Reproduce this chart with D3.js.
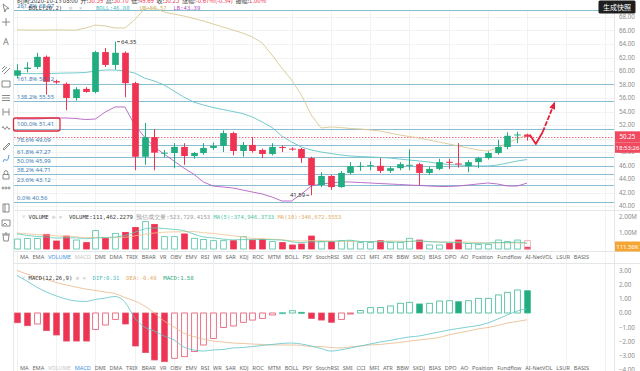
<!DOCTYPE html>
<html>
<head>
<meta charset="utf-8">
<script src="https://cdn.jsdelivr.net/npm/d3@7"></script>
<style>
  html, body { margin: 0; padding: 0; background: #fff; overflow: hidden; }
  svg { display: block; font-family: "Noto Sans", "Noto Sans CJK SC", sans-serif; }
</style>
</head>
<body>
<svg id="chart" width="640" height="371"></svg>
<script>
// ---- data (4h candles, index 0 = left edge) ----
const opens  = [59.3,60.3,60.6,62.1,58.5,58.1,56.0,57.35,56.9,62.8,60.9,62.7,58.2,47.3,50.2,47.8,47.85,48.75,47.4,47.85,48.6,48.9,50.8,48.15,49.05,48.3,47.7,48.75,48.5,48.45,47.1,43.1,44.45,42.8,44.9,45.85,45.9,45.95,45.2,45.6,46.0,46.2,44.9,45.5,46.55,46.3,45.9,46.5,47.1,47.85,48.75,50.5,50.59];
const highs  = [61.0,61.3,62.7,62.3,58.7,58.3,57.6,57.6,63.0,63.4,64.35,62.9,58.4,52.3,51.4,48.3,49.3,49.3,48.0,49.3,49.4,51.2,51.0,49.5,50.2,48.5,49.3,49.0,48.7,48.6,47.3,45.0,44.6,45.2,46.5,46.5,46.6,47.1,45.9,46.5,48.4,46.4,45.8,47.0,47.0,49.3,46.8,47.3,48.1,49.8,50.9,51.0,50.70];
const lows   = [58.9,59.8,60.3,56.5,58.1,54.2,55.6,56.8,56.7,60.6,60.2,56.1,45.3,46.1,45.3,47.2,45.6,46.1,47.0,47.6,48.3,48.0,47.5,47.3,47.9,47.1,47.5,48.0,48.2,46.4,41.59,42.8,42.4,42.7,44.7,45.2,45.3,44.9,44.9,45.3,45.3,43.1,44.6,45.3,45.5,45.7,45.0,45.6,46.9,47.6,48.4,49.3,49.69];
const closes = [60.1,60.5,62.1,58.4,58.3,56.0,57.3,56.9,62.8,60.9,62.7,58.2,47.3,50.2,47.9,47.9,48.75,47.4,47.85,48.6,48.9,50.8,48.15,49.05,48.15,47.7,48.75,48.6,48.4,47.1,43.1,44.45,42.8,44.9,45.9,45.95,46.05,45.2,45.6,46.2,46.1,44.9,45.5,46.5,46.4,46.15,46.5,47.1,47.85,48.75,50.4,50.6,50.25];

const bollMid = [59.65,59.62,59.60,59.62,59.66,59.70,59.72,59.78,60.00,60.15,60.15,60.00,59.70,58.96,58.52,57.93,57.04,56.15,55.41,54.96,54.59,54.30,54.00,53.70,53.19,52.44,51.63,50.37,49.48,48.74,48.30,48.00,47.78,47.56,47.41,47.33,47.26,47.19,47.11,46.96,46.81,46.67,46.52,46.30,46.15,46.07,46.00,45.93,45.93,46.07,46.37,46.67,46.88];
const bollUp  = [66.10,66.07,66.05,66.07,66.10,66.07,66.05,66.37,66.81,66.67,66.37,66.37,67.60,69.19,69.33,68.74,68.44,68.15,67.78,67.41,66.96,66.52,66.07,65.63,65.04,64.15,62.37,60.44,58.67,56.44,53.48,51.56,51.70,51.63,51.48,51.41,51.26,51.11,50.81,50.52,50.30,50.07,49.78,49.48,49.19,48.89,48.59,48.30,48.15,48.59,49.33,49.93,50.57];
const bollLow = [52.89,52.89,52.89,52.96,53.04,53.04,52.96,52.81,52.89,53.93,54.67,54.67,52.00,50.22,48.74,47.70,46.67,45.63,44.74,43.56,42.96,42.81,42.67,42.37,42.07,41.78,41.33,40.74,40.74,41.78,42.96,43.26,43.41,43.56,43.56,43.48,43.41,43.33,43.26,43.19,43.11,43.04,42.96,42.89,42.89,42.96,43.11,43.26,43.41,43.26,42.96,42.96,43.39];

// volume in millions
const volumes = [0.62,0.66,0.66,0.92,0.50,0.81,0.56,0.40,1.15,0.67,0.98,1.04,1.35,1.71,1.54,0.77,0.77,0.94,0.67,0.60,0.52,0.52,0.52,0.77,0.56,0.60,0.46,0.40,0.25,0.31,0.81,0.46,0.46,0.52,0.50,0.40,0.40,0.52,0.40,0.40,0.67,0.56,0.25,0.25,0.35,0.56,0.35,0.29,0.29,0.56,0.46,0.56,0.11];
const volEstimate = 0.52;
const volMa5  = [0.95,0.85,0.78,0.75,0.68,0.70,0.70,0.64,0.69,0.72,0.75,0.85,1.04,1.25,1.32,1.28,1.23,1.15,0.94,0.75,0.70,0.62,0.57,0.59,0.58,0.60,0.58,0.56,0.45,0.40,0.45,0.45,0.46,0.51,0.55,0.47,0.46,0.45,0.45,0.43,0.48,0.51,0.46,0.43,0.42,0.40,0.35,0.35,0.37,0.41,0.40,0.43,0.37];
const volMa10 = [1.00,0.95,0.90,0.88,0.82,0.80,0.76,0.72,0.72,0.71,0.71,0.73,0.82,0.92,1.00,1.05,1.07,1.08,1.09,1.02,0.98,0.90,0.83,0.76,0.66,0.65,0.61,0.58,0.52,0.50,0.53,0.52,0.51,0.48,0.47,0.46,0.46,0.48,0.50,0.49,0.47,0.48,0.46,0.44,0.44,0.44,0.43,0.40,0.38,0.38,0.38,0.37,0.35];

const macdHist = [-0.69,-0.90,-0.78,-1.25,-1.56,-1.99,-1.99,-1.99,-1.16,-0.85,-0.45,-0.78,-2.34,-2.81,-3.33,-3.45,-3.21,-3.10,-2.74,-2.27,-1.80,-1.02,-0.92,-0.66,-0.50,-0.38,-0.14,0.02,0.16,0.05,-0.38,-0.50,-0.66,-0.45,-0.05,0.17,0.38,0.40,0.50,0.69,0.76,0.64,0.69,0.85,0.87,0.80,0.87,1.04,1.04,1.28,1.47,1.63,1.58];
const difLine  = [2.66,2.27,1.84,1.49,1.21,0.99,0.85,0.82,0.96,1.06,1.17,0.78,-0.35,-1.00,-1.28,-1.63,-1.91,-2.41,-2.62,-2.70,-2.62,-2.59,-2.48,-2.45,-2.38,-2.30,-2.23,-2.16,-2.13,-2.20,-2.34,-2.52,-2.70,-2.62,-2.48,-2.34,-2.20,-2.06,-1.95,-1.81,-1.70,-1.63,-1.49,-1.35,-1.21,-1.10,-0.99,-0.89,-0.71,-0.43,-0.14,0.14,0.31];
const deaLine  = [3.01,2.77,2.55,2.38,2.16,1.99,1.84,1.70,1.60,1.49,1.38,1.10,0.85,0.50,0.00,-0.57,-0.99,-1.42,-1.67,-1.84,-1.99,-2.06,-2.13,-2.16,-2.20,-2.23,-2.27,-2.27,-2.27,-2.30,-2.38,-2.38,-2.45,-2.48,-2.41,-2.34,-2.27,-2.23,-2.16,-2.09,-1.99,-1.91,-1.84,-1.74,-1.56,-1.42,-1.28,-1.13,-1.03,-0.89,-0.71,-0.60,-0.48];

const priceTicks = [40,42,44,46,48,50,52,54,56,58,60,62,64,66,68];
const volTicks = [1, 2];
const macdTicks = [-4,-3,-2,-1,0,1,2,3];

const fibNames  = ["0.0%","23.6%","38.2%","50.0%","61.8%","78.6%","100.0%","138.2%","161.8%","261.8%"];
const fibPrices = [40.56,43.12,44.71,45.99,47.27,49.09,51.41,55.55,58.12,68.97];

const lastPrice = 50.25;
const hiMark = {i: 10, v: 64.35};
const loMark = {i: 30, v: 41.59};
// hand drawn arrow (candle index, price)
const arrowPts = [[52.3,50.52],[52.9,49.19],[53.6,50.96],[54.8,55.26]];

const tabs = ["MA","EMA","VOLUME","MACD","DMI","DMA","TRIX","BRAR","VR","OBV","EMV","RSI","WR","SAR","KDJ","ROC","MTM","BOLL","PSY","StochRSI","SMI","CCI","MFI","ATR","BBW","SKDJ","BIAS","DPO","AO","Position","Fundflow","AI-NetVOL","LSUR","BASIS"];

// ---- setup ----
const svg = d3.select("#chart");
const UP = "#22ad80", DOWN = "#ef3352";
const plotL = 14, plotR = 614;
const mono = "'DejaVu Sans Mono', monospace";

const x = d3.scaleLinear().domain([0, 52]).range([17, 527]);
const step = x(1) - x(0);
const bodyW = step * 0.68;
const yP = d3.scaleLinear().domain([40, 68]).range([206, 17]);
const yV = d3.scaleLinear().domain([0, 2]).range([249, 217]);
const yM = d3.scaleLinear().domain([-4, 3]).range([369.4, 270.7]);
const idx = d3.range(closes.length);

svg.append("clipPath").attr("id", "pclip")
  .append("rect").attr("x", plotL).attr("y", 0).attr("width", plotR - plotL).attr("height", 210);

// grid
const grid = svg.append("g").attr("stroke", "#f1f2f4").attr("stroke-width", 1);
d3.range(0, 61, 4).forEach(i => {
  grid.append("line").attr("x1", Math.round(x(i)) + 0.5).attr("x2", Math.round(x(i)) + 0.5).attr("y1", 11).attr("y2", 371);
});
priceTicks.forEach(p => grid.append("line").attr("x1", plotL).attr("x2", plotR).attr("y1", Math.round(yP(p)) + 0.5).attr("y2", Math.round(yP(p)) + 0.5));

// separators
const sep = svg.append("g").attr("stroke", "#e4e6e9").attr("stroke-width", 1);
sep.append("line").attr("x1", 13.5).attr("x2", 13.5).attr("y1", 0).attr("y2", 371);
sep.append("line").attr("x1", plotR + 0.5).attr("x2", plotR + 0.5).attr("y1", 11).attr("y2", 371);
sep.append("line").attr("x1", plotL).attr("x2", 640).attr("y1", 251.5).attr("y2", 251.5);
sep.append("line").attr("x1", plotL).attr("x2", 640).attr("y1", 263.5).attr("y2", 263.5);
sep.append("line").attr("x1", plotL).attr("x2", 640).attr("y1", 210.5).attr("y2", 210.5);

// ---- price panel ----
const pg = svg.append("g").attr("clip-path", "url(#pclip)");

// fibonacci lines
pg.selectAll(".fib").data(fibPrices).join("line")
  .attr("x1", plotL).attr("x2", plotR)
  .attr("y1", d => Math.round(yP(d)) + 0.5).attr("y2", d => Math.round(yP(d)) + 0.5)
  .attr("stroke", "#8bbdd2").attr("stroke-width", 1);

// current price dotted
pg.append("line").attr("x1", plotL).attr("x2", plotR)
  .attr("y1", Math.round(yP(lastPrice)) + 0.5).attr("y2", Math.round(yP(lastPrice)) + 0.5)
  .attr("stroke", "#e54a5e").attr("stroke-width", 0.8).attr("stroke-dasharray", "1.5,1.5");

// bollinger
const line = arr => d3.line().x((d, i) => x(i)).y(d => yP(d))(arr);
pg.append("path").attr("d", line(bollUp)).attr("fill", "none").attr("stroke", "#d8c891").attr("stroke-width", 0.9);
pg.append("path").attr("d", line(bollMid)).attr("fill", "none").attr("stroke", "#62c4c6").attr("stroke-width", 0.9);
pg.append("path").attr("d", line(bollLow)).attr("fill", "none").attr("stroke", "#b45fc3").attr("stroke-width", 0.9);

// candles
const cg = pg.selectAll(".candle").data(idx).join("g");
cg.append("line")
  .attr("x1", i => Math.round(x(i)) + 0.5).attr("x2", i => Math.round(x(i)) + 0.5)
  .attr("y1", i => yP(highs[i])).attr("y2", i => yP(lows[i]))
  .attr("stroke", i => closes[i] >= opens[i] ? UP : DOWN).attr("stroke-width", 1);
cg.append("rect")
  .attr("x", i => Math.round(x(i)) + 0.5 - bodyW / 2)
  .attr("y", i => yP(Math.max(opens[i], closes[i])))
  .attr("width", bodyW)
  .attr("height", i => Math.max(1, Math.abs(yP(opens[i]) - yP(closes[i]))))
  .attr("fill", i => closes[i] >= opens[i] ? UP : DOWN);

// fib labels
const fl = svg.append("g").attr("font-size", 6).attr("fill", "#3d7db3");
fibPrices.forEach((p, k) => {
  fl.append("text").attr("x", 17).attr("y", yP(p) - 2.5).text(fibNames[k] + " " + p.toFixed(2));
});
// red annotation box around 100% label
svg.append("rect").attr("x", 13.5).attr("y", yP(51.41) - 11).attr("width", 46.5).attr("height", 13)
  .attr("rx", 2).attr("fill", "none").attr("stroke", "#e02b3c").attr("stroke-width", 1.3);

// high / low marks
const mk = svg.append("g").attr("font-size", 6).attr("fill", "#333");
mk.append("line").attr("x1", x(hiMark.i) + 2).attr("x2", x(hiMark.i) + 5).attr("y1", yP(hiMark.v)).attr("y2", yP(hiMark.v)).attr("stroke", "#333").attr("stroke-width", 0.8);
mk.append("text").attr("x", x(hiMark.i) + 6).attr("y", yP(hiMark.v) + 2).text(hiMark.v.toFixed(2));
mk.append("line").attr("x1", x(loMark.i) - 5).attr("x2", x(loMark.i) - 2).attr("y1", yP(loMark.v)).attr("y2", yP(loMark.v)).attr("stroke", "#333").attr("stroke-width", 0.8);
mk.append("text").attr("x", x(loMark.i) - 6).attr("y", yP(loMark.v) + 2).attr("text-anchor", "end").text(loMark.v.toFixed(2));

// hand drawn red arrow
const ap = arrowPts.map(d => [x(d[0]), yP(d[1])]);
svg.append("path").attr("d", d3.line()(ap.slice(0, 3))).attr("fill", "none")
  .attr("stroke", "#e5213a").attr("stroke-width", 1.8).attr("stroke-linejoin", "round");
svg.append("path").attr("d", d3.line()(ap.slice(2))).attr("fill", "none")
  .attr("stroke", "#e5213a").attr("stroke-width", 1.8).attr("stroke-dasharray", "5,1.5");
{
  const [x1, y1] = ap[2], [x2, y2] = ap[3];
  const a = Math.atan2(y2 - y1, x2 - x1), L = 6, w = 3;
  const bx = x2 - L * Math.cos(a), by = y2 - L * Math.sin(a);
  svg.append("path")
    .attr("d", `M${x2 + 1.5 * Math.cos(a)},${y2 + 1.5 * Math.sin(a)}L${bx - w * Math.sin(a)},${by + w * Math.cos(a)}L${bx + w * Math.sin(a)},${by - w * Math.cos(a)}Z`)
    .attr("fill", "#e5213a");
}

// price axis
const axP = svg.append("g").attr("transform", `translate(${plotR + 5},0)`)
  .call(d3.axisRight(yP).tickValues(priceTicks).tickFormat(d3.format(".2f")).tickSize(0).tickPadding(0));
axP.select(".domain").remove();
axP.selectAll("text").attr("font-size", 6.2).attr("fill", "#8c8c8c").attr("font-family", "Noto Sans");

// last price tags
const tagY = yP(lastPrice);
svg.append("rect").attr("x", plotR + 1).attr("y", tagY - 5.5).attr("width", 25).attr("height", 11).attr("fill", "#ef4a60");
svg.append("text").attr("x", 627.5).attr("y", tagY + 2.2).attr("text-anchor", "middle").attr("font-size", 6.2).attr("fill", "#fff").text(lastPrice.toFixed(2));
svg.append("rect").attr("x", plotR + 1).attr("y", tagY + 5.5).attr("width", 25).attr("height", 10.5).attr("fill", "#ef4a60");
svg.append("text").attr("x", 627.5).attr("y", tagY + 13).attr("text-anchor", "middle").attr("font-size", 6).attr("fill", "#fff").text("18:53:26");

// ---- volume panel ----
const vg = svg.append("g");
vg.selectAll(".vbar").data(idx).join("rect")
  .attr("x", i => Math.round(x(i)) + 0.5 - bodyW / 2 + 0.5)
  .attr("y", i => yV(volumes[i]))
  .attr("width", bodyW - 1)
  .attr("height", i => yV(0) - yV(volumes[i]))
  .attr("fill", i => closes[i] >= opens[i] ? "#fff" : DOWN)
  .attr("stroke", i => closes[i] >= opens[i] ? "#4fc2a4" : DOWN)
  .attr("stroke-width", 0.8);
vg.append("rect").attr("x", Math.round(x(52)) + 0.5 - bodyW / 2 + 0.5).attr("y", yV(volEstimate))
  .attr("width", bodyW - 1).attr("height", yV(0) - yV(volEstimate))
  .attr("fill", "none").attr("stroke", "#f0a0ab").attr("stroke-width", 0.8);
const vline = arr => d3.line().x((d, i) => x(i)).y(d => yV(d)).curve(d3.curveMonotoneX)(arr);
vg.append("path").attr("d", vline(volMa10)).attr("fill", "none").attr("stroke", "#eec48f").attr("stroke-width", 0.8);
vg.append("path").attr("d", vline(volMa5)).attr("fill", "none").attr("stroke", "#5ccab3").attr("stroke-width", 0.8);

const axV = svg.append("g").attr("transform", `translate(${plotR + 5},0)`)
  .call(d3.axisRight(yV).tickValues(volTicks).tickFormat(d => d.toFixed(2) + "M").tickSize(0).tickPadding(0));
axV.select(".domain").remove();
axV.selectAll("text").attr("font-size", 6.2).attr("fill", "#8c8c8c").attr("font-family", "Noto Sans");
svg.append("rect").attr("x", plotR + 1).attr("y", 241.5).attr("width", 25).attr("height", 10).attr("fill", "#f5a532");
svg.append("text").attr("x", 627.5).attr("y", 248.7).attr("text-anchor", "middle").attr("font-size", 6).attr("fill", "#fff").text("111.56K");

// ---- MACD panel ----
const mg = svg.append("g");
mg.selectAll(".mbar").data(idx).join("rect")
  .attr("x", i => Math.round(x(i)) + 0.5 - bodyW / 2 + 0.5)
  .attr("y", i => yM(Math.max(0, macdHist[i])))
  .attr("width", bodyW - 1)
  .attr("height", i => Math.max(1, Math.abs(yM(macdHist[i]) - yM(0))))
  .attr("fill", i => {
    const v = macdHist[i], pv = i ? macdHist[i - 1] : v;
    const hollow = v >= 0 ? v >= pv : v > pv;
    return hollow ? "#fff" : (v >= 0 ? UP : DOWN);
  })
  .attr("stroke", i => macdHist[i] >= 0 ? "#3bb895" : "#e4506a")
  .attr("stroke-width", 0.8);
const mline = arr => d3.line().x((d, i) => x(i)).y(d => yM(d)).curve(d3.curveMonotoneX)(arr);
mg.append("path").attr("d", mline(deaLine)).attr("fill", "none").attr("stroke", "#e6b986").attr("stroke-width", 0.8);
mg.append("path").attr("d", mline(difLine)).attr("fill", "none").attr("stroke", "#5cc3c9").attr("stroke-width", 0.8);

const axM = svg.append("g").attr("transform", `translate(${plotR + 5},0)`)
  .call(d3.axisRight(yM).tickValues(macdTicks).tickFormat(d3.format(".2f")).tickSize(0).tickPadding(0));
axM.select(".domain").remove();
axM.selectAll("text").attr("font-size", 6.2).attr("fill", "#8c8c8c").attr("font-family", "Noto Sans");

// ---- indicator tab rows ----
function tabRow(yb, active, dim) {
  const g = svg.append("g").attr("font-size", 5.6);
  const t = g.selectAll("text").data(tabs).join("text").attr("y", yb).text(d => d)
    .attr("fill", d => d === active ? "#3b8fe0" : d === dim ? "#c6c6c6" : "#666");
  const widths = t.nodes().map(n => n.getComputedTextLength());
  const gap = (589 - 20 - d3.sum(widths)) / (tabs.length - 1);
  let cx = 20;
  t.attr("x", (d, i) => { const v = cx; cx += widths[i] + gap; return v; });
}
tabRow(258.5, "VOLUME", "MACD");
tabRow(370, "MACD", "VOLUME");

// ---- header texts ----
function runs(yb, x0, parts, size) {
  const t = svg.append("text").attr("x", x0).attr("y", yb).attr("font-size", size || 5.6).attr("font-family", mono).attr("xml:space", "preserve");
  parts.forEach(p => t.append("tspan").attr("fill", p[1]).text(p[0]));
}
const CN = "'Noto Sans CJK SC', sans-serif";
{
  const t = svg.append("text").attr("x", 17).attr("y", 3).attr("font-size", 6).attr("font-family", CN).attr("xml:space", "preserve");
  [["时间:2020-10-13 08:00  ", "#333"], ["开:", "#333"], ["50.59  ", DOWN], ["高:", "#333"], ["50.70  ", DOWN],
   ["低:", "#333"], ["49.69  ", DOWN], ["收:", "#333"], ["50.25  ", DOWN], ["涨幅:", "#333"], ["-0.67%(-0.34)  ", DOWN],
   ["振幅:", "#333"], ["1.00%", DOWN]].forEach(p => t.append("tspan").attr("fill", p[1]).text(p[0]));
}
runs(10.2, 22, [["˅ ", "#999"], ["BOLL(20,2)", "#333"], ["  ⊙  ×    ", "#aaa"], ["BOLL:46.88", "#4fbcc0"], ["   ", "#333"], ["UB:50.57", "#cdb76a"], ["  ", "#333"], ["LB:43.39", "#b04fc0"]]);
runs(218.5, 22, [["˅ ", "#999"], ["VOLUME", "#333"], [" ⊙ ×  ", "#aaa"], ["VOLUME:111,462.2279", "#333"], [" ", "#333"], ["预估成交量:523,729.4153", "#999"], [" ", "#333"], ["MA(5):374,946.3733", "#4fc3a8"], [" ", "#333"], ["MA(10):346,672.5553", "#e3ad6a"]]);
runs(280, 22, [["˅ ", "#999"], ["MACD(12,26,9)", "#333"], [" ⊙ ×  ", "#aaa"], ["DIF:0.31", "#4fbcc0"], ["  ", "#333"], ["DEA:-0.48", "#e3ad6a"], ["  ", "#333"], ["MACD:1.58", "#2aa87d"]]);

// snapshot tooltip
svg.append("rect").attr("x", 598.5).attr("y", 0.5).attr("width", 37).attr("height", 13).attr("rx", 1.5).attr("fill", "#1e1e1e");
svg.append("text").attr("x", 617).attr("y", 9.5).attr("text-anchor", "middle").attr("font-size", 7).attr("font-family", CN).attr("fill", "#fff").text("生成快照");

// ---- left toolbar icons ----
const tb = svg.append("g").attr("fill", "none").attr("stroke", "#7d7d7d").attr("stroke-width", 0.9);
const icons = [
  [8,   "M-3,-4L3,0.5L0,1L-1.2,4Z"],
  [22,  "M-4,0H4M0,-4V4"],
  [70,  "M-4,2L1,-3M-2,4L4,-2M-4,-1L-1,-4"],
  [84,  "M-4,-3h8v6h-8z"],
  [98,  "M-4,-2.5h8M-4,0h8M-4,2.5h8"],
  [112, "M-3,-3.5v7M3,-3.5v7M-3,0h6"],
  [127, "M-4,1q1,-3 2,0t2,0t2,0t2,0"],
  [145, "M-3,4L3,-2L4,-1L-2,5ZM-3,4l0,0"],
  [175, "M-3,-0.5h6v4.5h-6zM-1.8,-0.5v-2a1.8,1.8 0 0 1 3.6,0v2"],
  [188, "M-4,0a1,1 0 1 0 2,0a1,1 0 1 0 -2,0M-1,0a1,1 0 1 0 2,0a1,1 0 1 0 -2,0M2,0a1,1 0 1 0 2,0a1,1 0 1 0 -2,0"],
  [208, "M-3,-4h6v8h-6zM-1,-4v8"],
  [223, "M-4,-3h8v6h-8zM-3,2l2,-2l2,2"],
  [237, "M-3,-2h6l-0.8,6h-4.4zM-4,-3h8M-1,-4h2"]
];
icons.forEach(ic => tb.append("path").attr("transform", `translate(6,${ic[0]})`).attr("d", ic[1]));
tb.append("path").attr("transform", "translate(6,158)").attr("d", "M-3,4q1,-4 3,-2t3,-5").attr("stroke", "#3b8fe0");
svg.append("text").attr("x", 6).attr("y", 45).attr("text-anchor", "middle").attr("font-size", 9).attr("fill", "#7d7d7d").text("A");
</script>
</body>
</html>
